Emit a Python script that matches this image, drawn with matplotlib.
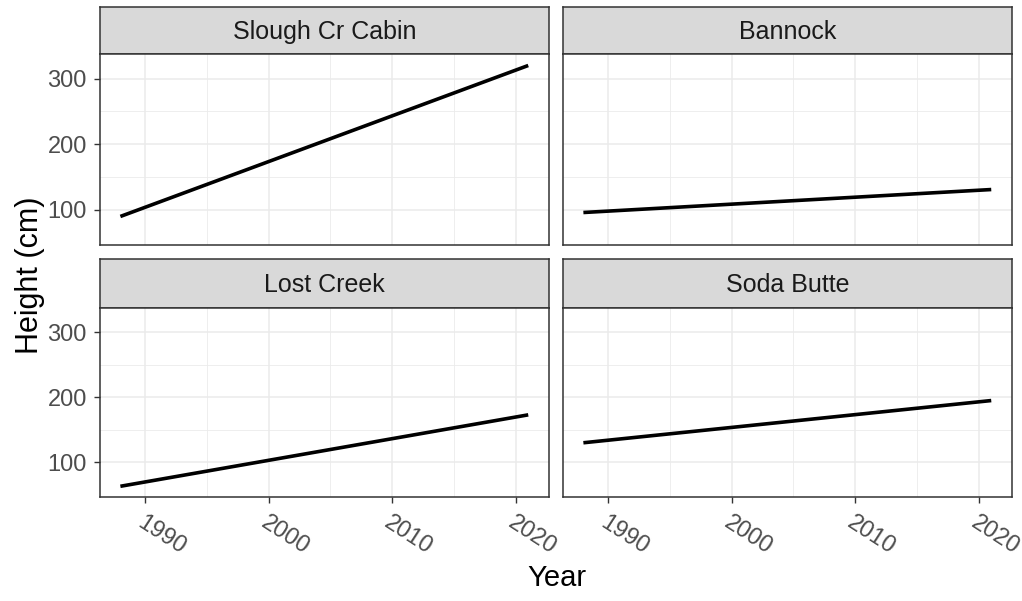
import numpy as np
import matplotlib
matplotlib.use('Agg')
import matplotlib.pyplot as plt
from matplotlib.ticker import FixedLocator

plt.rcParams['font.family'] = ['Liberation Sans', 'DejaVu Sans']

# fitted height trends per site (first and last year of the record)
sites = ['Slough Cr Cabin', 'Bannock', 'Lost Creek', 'Soda Butte']
years = [1988, 2021]
height_start = [90, 96, 63, 130]
height_end = [320, 131, 173, 195]

x_breaks = [1990, 2000, 2010, 2020]
x_minor = [1995, 2005, 2015]
y_breaks = [100, 200, 300]
y_minor = [150, 250]

W, H = 1022, 601
fig = plt.figure(figsize=(W / 100, H / 100), dpi=100)


def px_box(x0, y0, x1, y1):
    # pixel box (top-left origin) -> figure fraction rect
    return [x0 / W, 1 - y1 / H, (x1 - x0) / W, (y1 - y0) / H]


border = '#333333'
col_x = [(100, 549), (563, 1012)]
row_y = [(7, 54, 245), (259, 308, 497)]

for i, site in enumerate(sites):
    r, c = divmod(i, 2)
    x0, x1 = col_x[c]
    s0, p0, p1 = row_y[r]

    # strip with the site name
    st = fig.add_axes(px_box(x0, s0, x1, p0))
    st.set_facecolor('#D9D9D9')
    st.set_xticks([])
    st.set_yticks([])
    for sp in st.spines.values():
        sp.set_color(border)
        sp.set_linewidth(1.1)
    st.text(0.5, 0.47, site, ha='center', va='center', fontsize=18,
            color='#1A1A1A', transform=st.transAxes)

    ax = fig.add_axes(px_box(x0, p0, x1, p1))
    ax.plot(years, [height_start[i], height_end[i]], color='black', lw=2.6,
            solid_capstyle='butt')
    ax.set_xlim(1986.35, 2022.68)
    ax.set_ylim(46.5, 337.5)

    ax.xaxis.set_major_locator(FixedLocator(x_breaks))
    ax.xaxis.set_minor_locator(FixedLocator(x_minor))
    ax.yaxis.set_major_locator(FixedLocator(y_breaks))
    ax.yaxis.set_minor_locator(FixedLocator(y_minor))
    ax.grid(which='major', color='#EBEBEB', lw=1.1)
    ax.grid(which='minor', color='#EBEBEB', lw=0.6)
    ax.set_axisbelow(True)
    for sp in ax.spines.values():
        sp.set_color(border)
        sp.set_linewidth(1.1)

    ax.tick_params(which='minor', length=0)
    ax.tick_params(which='major', length=4.5, width=1.0, color=border,
                   labelcolor='#4D4D4D', labelsize=17, pad=5)

    if c == 0:
        ax.set_yticklabels([str(v) for v in y_breaks])
    else:
        ax.tick_params(axis='y', which='major', length=0, labelleft=False)

    if r == 1:
        ax.set_xticklabels([str(v) for v in x_breaks], rotation=-33,
                           ha='left', rotation_mode='anchor')
        ax.tick_params(axis='x', pad=6)
    else:
        ax.tick_params(axis='x', which='major', length=0, labelbottom=False)

fig.text(30 / W, 1 - 275 / H, 'Height (cm)', rotation=90, ha='center',
         va='center', fontsize=22, color='black')
fig.text(557 / W, 1 - 578 / H, 'Year', ha='center', va='center',
         fontsize=21, color='black')

fig.savefig('out.png', dpi=100, facecolor='white')
